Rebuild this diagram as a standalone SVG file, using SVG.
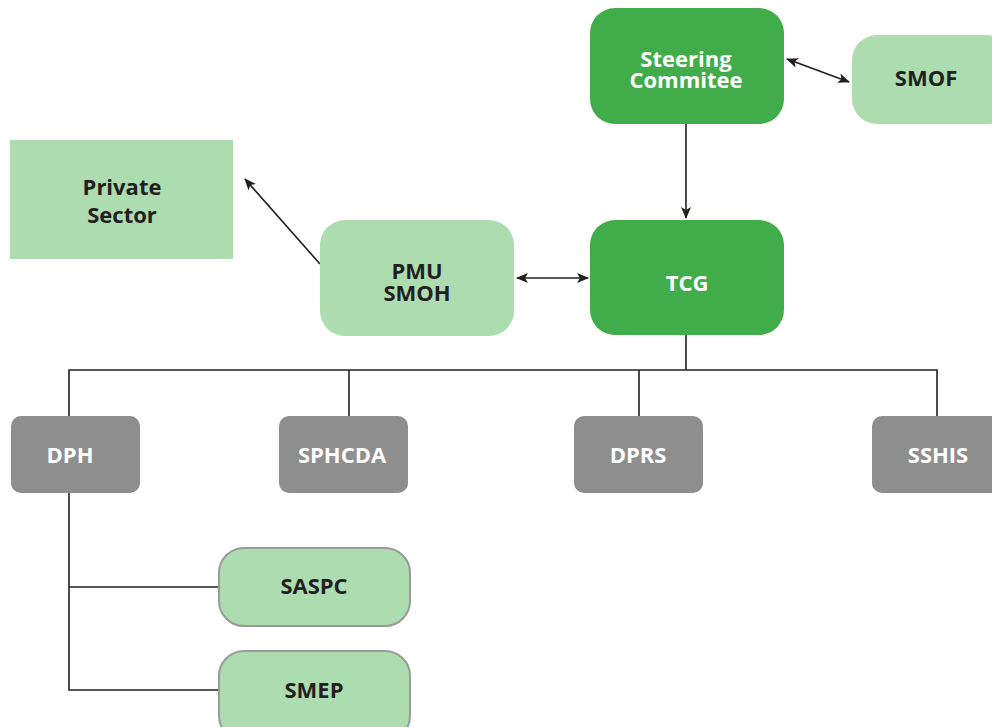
<svg xmlns="http://www.w3.org/2000/svg" width="992" height="727" viewBox="0 0 992 727">
<defs>
<marker id="ah" viewBox="0 0 12 10" refX="11" refY="5" markerWidth="12" markerHeight="10" markerUnits="userSpaceOnUse" orient="auto-start-reverse">
<path d="M0,0 L12,5 L0,10 L3,5 Z" fill="#231f20"/>
</marker>
<style>
.dk{fill:#41ad4a}
.lt{fill:#acdcb0}
.gr{fill:#8f8e8f}
.bd{stroke:#9a9a9a;stroke-width:2}
text{font-family:"Open Sans","Liberation Sans",sans-serif;font-weight:bold;font-size:22px;text-anchor:middle}
.w{fill:#ffffff}
.k{fill:#231f20}
.ln{stroke:#231f20;stroke-width:1.6;fill:none}
</style>
</defs>
<rect width="992" height="727" fill="#ffffff"/>
<g id="connectors">
<line class="ln" x1="787" y1="59" x2="849" y2="82" marker-start="url(#ah)" marker-end="url(#ah)"/>
<line class="ln" x1="686" y1="124" x2="686" y2="218" marker-end="url(#ah)"/>
<line class="ln" x1="517" y1="278" x2="588" y2="278" marker-start="url(#ah)" marker-end="url(#ah)"/>
<line class="ln" x1="320" y1="264" x2="245" y2="179" marker-end="url(#ah)"/>
<polyline class="ln" points="686,335 686,370"/>
<polyline class="ln" points="69,416 69,370 937,370 937,416"/>
<line class="ln" x1="349" y1="370" x2="349" y2="416"/>
<line class="ln" x1="639" y1="370" x2="639" y2="416"/>
<polyline class="ln" points="69,493 69,690 219,690"/>
<line class="ln" x1="69" y1="587" x2="219" y2="587"/>
</g>
<g id="steering">
<rect class="dk" x="590" y="8" width="194" height="116" rx="25"/>
<text class="w" x="686" y="67">Steering</text>
<text class="w" x="686" y="88">Commitee</text>
</g>
<g id="smof">
<rect class="lt" x="852" y="35" width="160" height="89" rx="25"/>
<text class="k" x="926" y="86">SMOF</text>
</g>
<g id="private">
<rect class="lt" x="10" y="140" width="223" height="119"/>
<text class="k" x="122" y="195">Private</text>
<text class="k" x="122" y="223">Sector</text>
</g>
<g id="pmu">
<rect class="lt" x="320" y="220" width="194" height="116" rx="25"/>
<text class="k" x="417" y="279">PMU</text>
<text class="k" x="417" y="301">SMOH</text>
</g>
<g id="tcg">
<rect class="dk" x="590" y="220" width="194" height="115" rx="25"/>
<text class="w" x="687" y="291">TCG</text>
</g>
<g id="dph">
<rect class="gr" x="11" y="416" width="129" height="77" rx="10"/>
<text class="w" x="70" y="463">DPH</text>
</g>
<g id="sphcda">
<rect class="gr" x="279" y="416" width="129" height="77" rx="10"/>
<text class="w" x="342" y="463">SPHCDA</text>
</g>
<g id="dprs">
<rect class="gr" x="574" y="416" width="129" height="77" rx="10"/>
<text class="w" x="638" y="463">DPRS</text>
</g>
<g id="sshis">
<rect class="gr" x="872" y="416" width="129" height="77" rx="10"/>
<text class="w" x="938" y="463">SSHIS</text>
</g>
<g id="saspc">
<rect class="lt bd" x="219" y="548" width="191" height="78" rx="25"/>
<text class="k" x="314" y="594">SASPC</text>
</g>
<g id="smep">
<rect class="lt bd" x="219" y="651" width="191" height="90" rx="25"/>
<text class="k" x="314" y="698">SMEP</text>
</g>
</svg>
